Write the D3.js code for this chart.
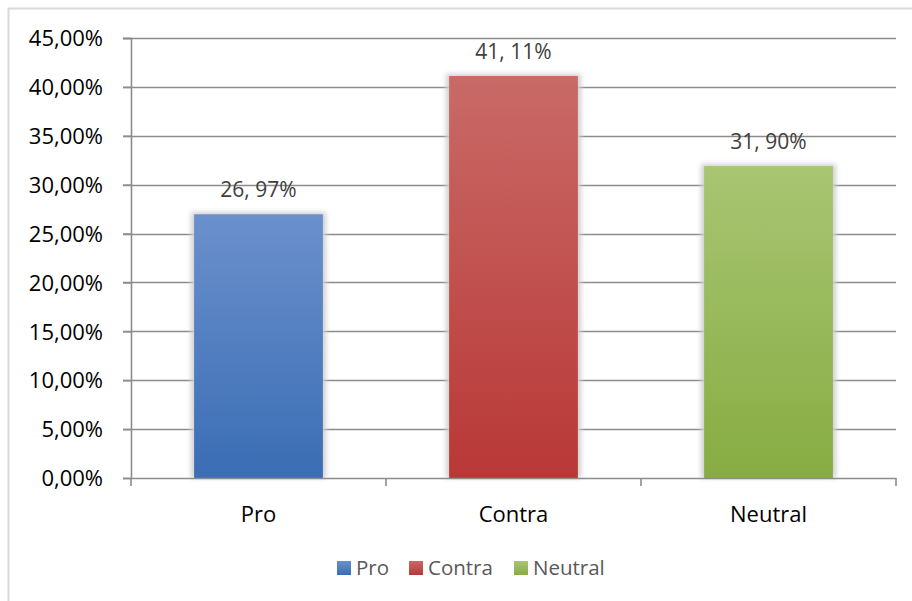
<!DOCTYPE html>
<html><head><meta charset="utf-8">
<script src="https://cdn.jsdelivr.net/npm/d3@7"></script>
<style>
html,body{margin:0;padding:0;background:#fff;}
svg{display:block;font-family:"Open Sans",sans-serif;}
</style></head>
<body>
<svg id="chart" width="912" height="601"></svg>
<script>
const categories = ["Pro", "Contra", "Neutral"];
const values = [26.97, 41.11, 31.90];
const valueLabels = ["26, 97%", "41, 11%", "31, 90%"];
const yTicks = [0, 5, 10, 15, 20, 25, 30, 35, 40, 45];
const yTickLabels = ["0,00%", "5,00%", "10,00%", "15,00%", "20,00%", "25,00%", "30,00%", "35,00%", "40,00%", "45,00%"];
const colorsTop = ["#6b90cc", "#c96a67", "#a8c572"];
const colorsBottom = ["#3a6db4", "#b83836", "#88ac43"];

const svg = d3.select("#chart");
const L = 131, R = 896, T = 38, B = 478;

const x = d3.scaleBand().domain(categories).range([L, R]).padding(0);
const y = d3.scaleLinear().domain([0, 45]).range([B, T]);

// outer border
svg.append("rect").attr("x", 8.5).attr("y", 8.5).attr("width", 920).attr("height", 620)
  .attr("fill", "#fff").attr("stroke", "#d9d9d9").attr("stroke-width", 2);

const defs = svg.append("defs");
categories.forEach((c, i) => {
  const g = defs.append("linearGradient").attr("id", "g" + i).attr("x1", 0).attr("y1", 0).attr("x2", 0).attr("y2", 1);
  g.append("stop").attr("offset", "0%").attr("stop-color", colorsTop[i]);
  g.append("stop").attr("offset", "100%").attr("stop-color", colorsBottom[i]);
});
const f = defs.append("filter").attr("id", "sh").attr("x", "-20%").attr("y", "-20%").attr("width", "140%").attr("height", "140%");
f.append("feGaussianBlur").attr("stdDeviation", 2.5);

// gridlines
svg.append("g").selectAll("line").data(yTicks.slice(1)).join("line")
  .attr("x1", L - 8).attr("x2", R).attr("y1", d => Math.round(y(d)) + 0.5).attr("y2", d => Math.round(y(d)) + 0.5)
  .attr("stroke", "#8c8c8c").attr("stroke-width", 1.6);

// y axis
const yAxis = d3.axisLeft(y).tickValues(yTicks).tickFormat((d, i) => yTickLabels[i]).tickSize(8).tickPadding(20);
const gy = svg.append("g").attr("transform", `translate(${L},0)`).call(yAxis);
gy.select(".domain").attr("stroke", "#8c8c8c").attr("stroke-width", 1.6);
gy.selectAll(".tick line").attr("stroke", "#8c8c8c").attr("stroke-width", 1.6);
gy.selectAll(".tick text").attr("fill", "#000").attr("font-size", 22).attr("font-family", "Open Sans").attr("dy", "0.35em");

// bars
const bw = x.bandwidth() * 0.505;
const bars = svg.append("g");
bars.selectAll("rect.sh").data(values).join("rect").attr("class", "sh")
  .attr("x", (d, i) => x(categories[i]) + (x.bandwidth() - bw) / 2 - 3)
  .attr("y", d => y(d) - 2)
  .attr("width", bw + 6).attr("height", d => B - y(d) + 2)
  .attr("fill", "#cfcfcf").attr("filter", "url(#sh)");
bars.selectAll("rect.b").data(values).join("rect").attr("class", "b")
  .attr("x", (d, i) => x(categories[i]) + (x.bandwidth() - bw) / 2)
  .attr("y", d => y(d))
  .attr("width", bw).attr("height", d => B - y(d))
  .attr("fill", (d, i) => `url(#g${i})`);

// x axis
const xAxis = d3.axisBottom(x).tickSize(0).tickPadding(28);
const gx = svg.append("g").attr("transform", `translate(0,${B})`).call(xAxis);
gx.select(".domain").attr("stroke", "#8c8c8c").attr("stroke-width", 1.6);
gx.selectAll(".tick text").attr("fill", "#000").attr("font-size", 22).attr("font-family", "Open Sans");
const bounds = categories.map(c => x(c)).concat([R]);
svg.append("g").selectAll("line").data(bounds).join("line")
  .attr("x1", d => d).attr("x2", d => d).attr("y1", B).attr("y2", B + 8)
  .attr("stroke", "#8c8c8c").attr("stroke-width", 1.6);

// data labels
svg.append("g").selectAll("text").data(values).join("text")
  .attr("x", (d, i) => x(categories[i]) + x.bandwidth() / 2)
  .attr("y", d => y(d) - 17)
  .attr("text-anchor", "middle").attr("font-size", 21).attr("fill", "#404040")
  .text((d, i) => valueLabels[i]);

// legend
const legX = [337, 409, 514];
const leg = svg.append("g");
categories.forEach((c, i) => {
  leg.append("rect").attr("x", legX[i]).attr("y", 561).attr("width", 14).attr("height", 14)
    .attr("fill", `url(#g${i})`);
  leg.append("text").attr("x", legX[i] + 19).attr("y", 575).attr("font-size", 20.5).attr("fill", "#595959").text(c);
});
</script>
</body></html>
